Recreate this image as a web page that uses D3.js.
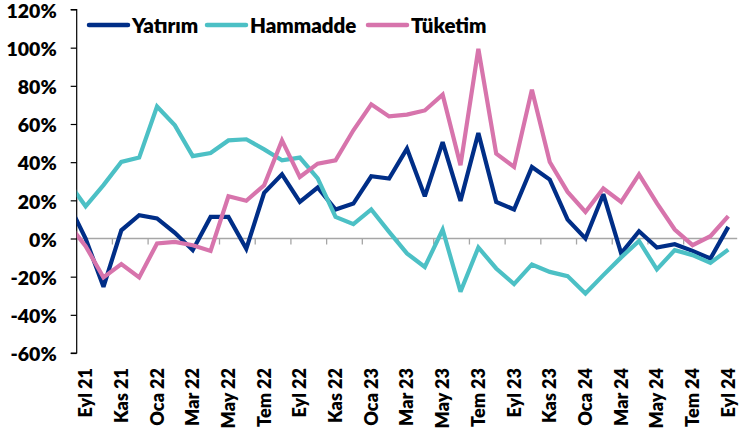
<!DOCTYPE html>
<html>
<head>
<meta charset="utf-8">
<script src="https://cdn.jsdelivr.net/npm/d3@7"></script>
<style>
  body { margin: 0; background: #fff; }
  svg { display: block; font-family: Lato, "DejaVu Sans", sans-serif; font-weight: 800; }
</style>
</head>
<body>
<svg id="chart" width="741" height="443"></svg>
<script>
// Months (first one, Ağu 21, lies just left of the plot and is clipped, as in the reference)
const months = ["Ağu 21","Eyl 21","Eki 21","Kas 21","Ara 21","Oca 22","Şub 22","Mar 22","Nis 22","May 22","Haz 22",
  "Tem 22","Ağu 22","Eyl 22","Eki 22","Kas 22","Ara 22","Oca 23","Şub 23","Mar 23","Nis 23","May 23","Haz 23",
  "Tem 23","Ağu 23","Eyl 23","Eki 23","Kas 23","Ara 23","Oca 24","Şub 24","Mar 24","Nis 24","May 24","Haz 24",
  "Tem 24","Ağu 24","Eyl 24"];

const yatirim = [19, 0, -25.3, 4.3, 12.2, 10.5, 3, -6.1, 11.3, 11.3, -5.4,
  23.9, 33.6, 19.2, 26.7, 15.2, 18.3, 32.6, 31.4, 47.1, 22.1, 50.5, 19.7,
  55.3, 19.2, 15.2, 37.5, 30.9, 9.9, 0, 23.2, -7.8, 3.8, -4.7, -3, -6.5, -10.5, 6.1];

const hammadde = [30, 16.9, 28, 40.1, 42.4, 69.2, 59.3, 43.2, 44.8, 51.4, 52,
  46.7, 41, 42.4, 31.5, 11.3, 7.5, 15.2, 3.5, -7.8, -14.9, 4.7, -27.9,
  -4.7, -15.7, -23.9, -13.6, -17.5, -19.7, -28.8, -19.2, -9.9, -1.3, -16.2, -6.1, -8.7, -12.8, -5.8];

const tuketim = [8, -4, -20.4, -13.4, -20.4, -2.6, -1.8, -3.5, -6.5, 22.1, 19.8,
  27.9, 51.4, 32.2, 39.2, 41, 56.7, 70.3, 64, 64.9, 67.1, 75.4, 38.4,
  99.4, 44.5, 37.5, 78, 40.1, 24.4, 13.9, 26.2, 19.2, 33.6, 18.5, 4.7, -3.5, 1.2, 11.7];

const seriesNames = ["Yatırım", "Hammadde", "Tüketim"];
const seriesColors = ["#002e87", "#4cc0c5", "#d774ac"];
const yTicks = [-60, -40, -20, 0, 20, 40, 60, 80, 100, 120];

const series = [yatirim, hammadde, tuketim].map((vals, k) => ({
  name: seriesNames[k], color: seriesColors[k], values: vals
}));

const svg = d3.select("#chart");
const pLeft = 76.7, pRight = 737.2, pTop = 9.5, pBottom = 353;

const x = d3.scaleLinear().domain([0.5, months.length - 0.5]).range([pLeft, pRight]);
const y = d3.scaleLinear().domain([-60, 120]).range([pBottom, pTop]);

svg.append("defs").append("clipPath").attr("id", "plot")
  .append("rect").attr("x", pLeft).attr("y", 0).attr("width", pRight - pLeft + 6).attr("height", 443);

// Zero line (category axis)
svg.append("line").attr("x1", pLeft).attr("x2", pRight).attr("y1", y(0)).attr("y2", y(0))
  .attr("stroke", "#a6a6a6").attr("stroke-width", 1.3);

// Category tick marks every two months, between categories
const tickIdx = d3.range(2.5, months.length, 2);
svg.append("g").selectAll("line").data(tickIdx).join("line")
  .attr("x1", d => x(d)).attr("x2", d => x(d))
  .attr("y1", y(0)).attr("y2", y(0) + 6)
  .attr("stroke", "#a6a6a6").attr("stroke-width", 1.3);

// Y axis
const yAxis = d3.axisLeft(y).tickValues(yTicks).tickSize(6).tickPadding(14)
  .tickFormat(d => d + "%");
const yg = svg.append("g").attr("transform", `translate(${pLeft},0)`).call(yAxis);
yg.select(".domain").attr("stroke", "#000").attr("stroke-width", 1.2).attr("d", `M-6,${pTop}H0V${pBottom}H-6`);
yg.selectAll(".tick line").attr("stroke", "#000").attr("stroke-width", 1.2);
yg.selectAll(".tick text").attr("font-size", 19.5).attr("font-weight", 800)
  .attr("font-family", "Lato, sans-serif").attr("fill", "#000").attr("dy", "0.4em");

// X labels (every two months, starting at Eyl 21)
const labelIdx = d3.range(1, months.length, 2);
svg.append("g").selectAll("text").data(labelIdx).join("text")
  .attr("transform", d => `translate(${x(d) + 6.5},368) rotate(-90)`)
  .attr("text-anchor", "end")
  .attr("font-size", 18).attr("fill", "#000")
  .text(d => months[d]);

// Lines
const line = d3.line().x((d, i) => x(i)).y(d => y(d));
svg.append("g").attr("clip-path", "url(#plot)").selectAll("path").data(series).join("path")
  .attr("d", d => line(d.values))
  .attr("fill", "none").attr("stroke", d => d.color).attr("stroke-width", 4.2)
  .attr("stroke-linejoin", "miter").attr("stroke-miterlimit", 3);

// Legend
const legendX = [89, 207, 368];
const lg = svg.append("g").selectAll("g").data(series).join("g")
  .attr("transform", (d, i) => `translate(${legendX[i]},25)`);
lg.append("line").attr("x1", 0).attr("x2", 39).attr("y1", 0).attr("y2", 0)
  .attr("stroke", d => d.color).attr("stroke-width", 4.5).attr("stroke-linecap", "round");
lg.append("text").attr("x", 43).attr("y", 7.5).attr("font-size", 20.5).attr("fill", "#000")
  .text(d => d.name);
</script>
</body>
</html>
